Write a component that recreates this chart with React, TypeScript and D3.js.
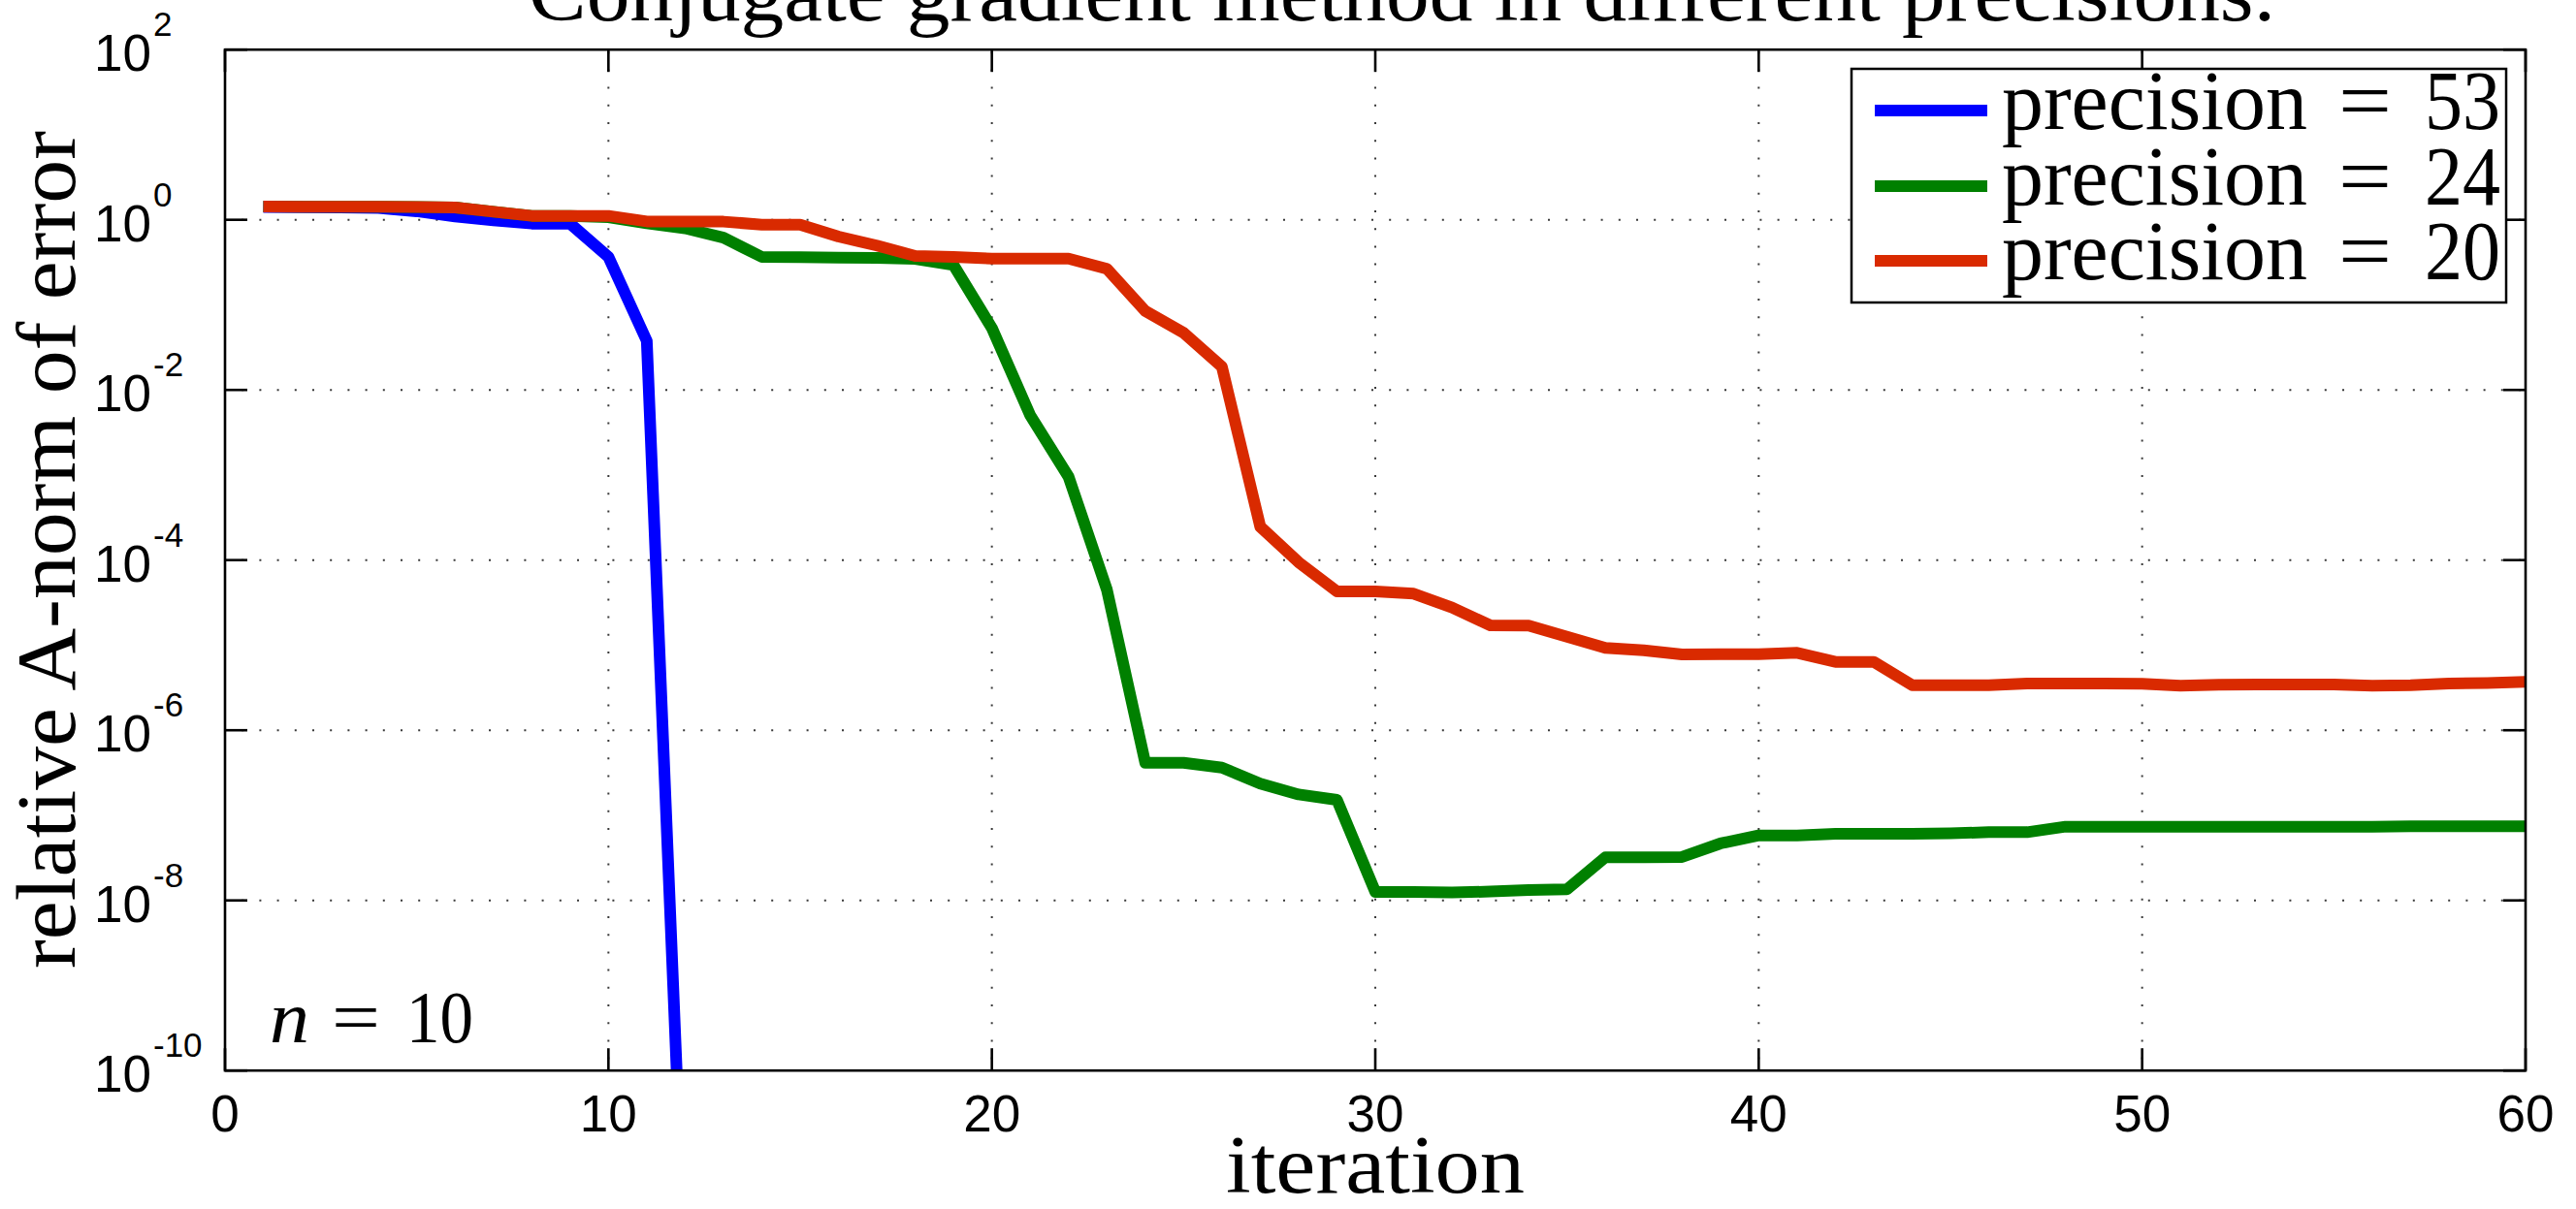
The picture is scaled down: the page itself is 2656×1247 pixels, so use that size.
import React from "react";
import * as d3 from "d3";

// ---- data ----
const iterations: number[] = d3.range(1, 61);

const precision53: number[] = [
  1.413, 1.406, 1.4, 1.38, 1.259, 1.091, 0.982, 0.902, 0.902, 0.366, 0.0377, 3.7e-13,
];

const precision24: number[] = [
  1.429, 1.422, 1.419, 1.419, 1.413, 1.396, 1.245, 1.112, 1.112, 1.072,
  0.908, 0.794, 0.617, 0.366, 0.363, 0.36, 0.356, 0.347, 0.294, 0.0535,
  5.04e-3, 9.55e-4, 4.48e-5, 4.15e-7, 4.15e-7, 3.64e-7, 2.36e-7, 1.76e-7, 1.52e-7, 1.26e-8,
  1.26e-8, 1.24e-8, 1.27e-8, 1.32e-8, 1.35e-8, 3.21e-8, 3.21e-8, 3.24e-8, 4.67e-8, 5.81e-8,
  5.81e-8, 6.07e-8, 6.07e-8, 6.07e-8, 6.14e-8, 6.34e-8, 6.34e-8, 7.35e-8, 7.35e-8, 7.35e-8,
  7.35e-8, 7.35e-8, 7.35e-8, 7.35e-8, 7.35e-8, 7.35e-8, 7.41e-8, 7.41e-8, 7.41e-8, 7.41e-8,
];

const precision20: number[] = [
  1.429, 1.422, 1.419, 1.419, 1.413, 1.396, 1.245, 1.112, 1.112, 1.112,
  0.957, 0.957, 0.951, 0.877, 0.877, 0.635, 0.498, 0.376, 0.366, 0.35,
  0.35, 0.35, 0.265, 0.0849, 0.0469, 0.0187, 2.47e-4, 9.42e-5, 4.29e-5, 4.29e-5,
  4.03e-5, 2.77e-5, 1.71e-5, 1.7e-5, 1.26e-5, 9.27e-6, 8.71e-6, 7.78e-6, 7.85e-6, 7.85e-6,
  8.13e-6, 6.37e-6, 6.37e-6, 3.39e-6, 3.39e-6, 3.39e-6, 3.54e-6, 3.54e-6, 3.54e-6, 3.51e-6,
  3.33e-6, 3.43e-6, 3.45e-6, 3.45e-6, 3.45e-6, 3.33e-6, 3.39e-6, 3.54e-6, 3.59e-6, 3.7e-6,
];

const seriesNames: string[] = ["precision = 53", "precision = 24", "precision = 20"];
const seriesLabels: string[] = ["precision", "precision", "precision"];
const seriesNumbers: string[] = ["53", "24", "20"];
const seriesColors: string[] = ["#0000ff", "#008000", "#d92a00"];

const xTicks: number[] = [0, 10, 20, 30, 40, 50, 60];
const yTickExponents: number[] = [2, 0, -2, -4, -6, -8, -10];

const titleText = "Conjugate gradient method in different precisions.";
const xLabelText = "iteration";
const yLabelText = "relative A-norm of error";

// ---- layout ----
const W = 2656;
const H = 1247;
const L = 232;
const R = 2604;
const T = 51.2;
const B = 1104.2;
const TICK = 23;

const SERIF = "'Liberation Serif', 'Times New Roman', serif";
const SANS = "'Liberation Sans', Arial, Helvetica, sans-serif";

export default function App() {
  const x = d3.scaleLinear().domain([0, 60]).range([L, R]);
  const y = d3.scaleLog().domain([1e-10, 1e2]).range([B, T]);

  const makeLine = (vals: number[]) =>
    d3
      .line<number>()
      .x((_, i) => x(iterations[i]))
      .y((v) => y(v))(vals) as string;

  const series = [precision53, precision24, precision20];

  const legendX0 = 1909;
  const legendY0 = 71;
  const legendW = 675;
  const legendH = 241;
  const rowY = [114, 192, 269];

  return (
    <svg
      width={W}
      height={H}
      viewBox={`0 0 ${W} ${H}`}
      style={{ position: "absolute", left: 0, top: 0, background: "#fff" }}
    >
      <rect x={0} y={0} width={W} height={H} fill="#fff" />
      <defs>
        <clipPath id="plotClip">
          <rect x={L} y={T} width={R - L} height={B - T} />
        </clipPath>
      </defs>

      {/* title (partially cut off at top, as in the reference) */}
      <text
        x={545}
        y={21}
        fontFamily={SERIF}
        fontSize={84}
        textLength={1801}
        lengthAdjust="spacingAndGlyphs"
      >
        {titleText}
      </text>

      {/* grid */}
      <g stroke="#3a3a3a" strokeWidth={2} strokeDasharray="2 16.2" fill="none">
        {yTickExponents
          .filter((e) => e < 2 && e > -10)
          .map((e) => (
            <line key={"gy" + e} x1={L - 1} x2={R} y1={y(Math.pow(10, e))} y2={y(Math.pow(10, e))} />
          ))}
        {xTicks
          .filter((t) => t > 0 && t < 60)
          .map((t) => (
            <line key={"gx" + t} x1={x(t)} x2={x(t)} y1={T + 2} y2={B} />
          ))}
      </g>

      {/* data lines */}
      <g clipPath="url(#plotClip)" fill="none" strokeWidth={12} strokeLinejoin="round" strokeLinecap="butt">
        {series.map((vals, k) => (
          <path key={k} d={makeLine(vals)} stroke={seriesColors[k]} />
        ))}
      </g>

      {/* axes box and ticks */}
      <g stroke="#000" strokeWidth={2.6} fill="none">
        <rect x={L} y={T} width={R - L} height={B - T} />
        {xTicks.map((t) => (
          <g key={"tx" + t}>
            <line x1={x(t)} x2={x(t)} y1={B} y2={B - TICK} />
            <line x1={x(t)} x2={x(t)} y1={T} y2={T + TICK} />
          </g>
        ))}
        {yTickExponents.map((e) => (
          <g key={"ty" + e}>
            <line x1={L} x2={L + TICK} y1={y(Math.pow(10, e))} y2={y(Math.pow(10, e))} />
            <line x1={R} x2={R - TICK} y1={y(Math.pow(10, e))} y2={y(Math.pow(10, e))} />
          </g>
        ))}
      </g>

      {/* x tick labels */}
      <g fontFamily={SANS} fontSize={53} textAnchor="middle" fill="#000">
        {xTicks.map((t) => (
          <text key={"lx" + t} x={x(t)} y={1167}>
            {t}
          </text>
        ))}
      </g>

      {/* y tick labels */}
      <g fontFamily={SANS} fill="#000">
        {yTickExponents.map((e) => {
          const yy = y(Math.pow(10, e));
          return (
            <g key={"ly" + e}>
              <text x={156} y={yy + 22} fontSize={53} textAnchor="end">
                10
              </text>
              <text x={158} y={yy - 14} fontSize={35} textAnchor="start">
                {e < 0 ? "-" + Math.abs(e) : String(e)}
              </text>
            </g>
          );
        })}
      </g>

      {/* axis labels */}
      <text
        x={(L + R) / 2}
        y={1230}
        fontFamily={SERIF}
        fontSize={84}
        textAnchor="middle"
        textLength={308}
        lengthAdjust="spacingAndGlyphs"
      >
        {xLabelText}
      </text>
      <text
        transform={`translate(77, 567) rotate(-90)`}
        fontFamily={SERIF}
        fontSize={86}
        textAnchor="middle"
        textLength={864}
        lengthAdjust="spacingAndGlyphs"
      >
        {yLabelText}
      </text>

      {/* annotation n = 10 */}
      <g fontFamily={SERIF} fontSize={76} fill="#000">
        <text x={278} y={1075} fontStyle="italic" textLength={41} lengthAdjust="spacingAndGlyphs">
          n
        </text>
        <text x={342} y={1075} textLength={50} lengthAdjust="spacingAndGlyphs">
          =
        </text>
        <text x={419} y={1075} textLength={69} lengthAdjust="spacingAndGlyphs">
          10
        </text>
      </g>

      {/* legend */}
      <g>
        <rect
          x={legendX0}
          y={legendY0}
          width={legendW}
          height={legendH}
          fill="#fff"
          stroke="#000"
          strokeWidth={2.5}
        />
        {seriesNames.map((name, k) => (
          <g key={name}>
            <line
              x1={1933}
              x2={2049}
              y1={rowY[k]}
              y2={rowY[k]}
              stroke={seriesColors[k]}
              strokeWidth={12}
            />
            <text
              x={2064}
              y={rowY[k] + 19}
              fontFamily={SERIF}
              fontSize={86}
              textLength={315}
              lengthAdjust="spacingAndGlyphs"
            >
              {seriesLabels[k]}
            </text>
            <text
              x={2411}
              y={rowY[k] + 19}
              fontFamily={SERIF}
              fontSize={86}
              textLength={55}
              lengthAdjust="spacingAndGlyphs"
            >
              =
            </text>
            <text
              x={2500}
              y={rowY[k] + 19}
              fontFamily={SERIF}
              fontSize={86}
              textLength={78}
              lengthAdjust="spacingAndGlyphs"
            >
              {seriesNumbers[k]}
            </text>
          </g>
        ))}
      </g>
    </svg>
  );
}
